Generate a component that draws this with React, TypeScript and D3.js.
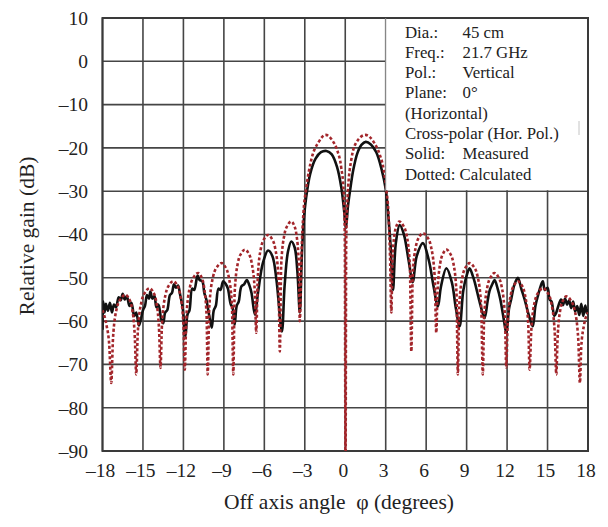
import React from "react";
import * as d3 from "d3";

const xTicks = [-18, -15, -12, -9, -6, -3, 0, 3, 6, 9, 12, 15, 18];
const yTicks = [10, 0, -10, -20, -30, -40, -50, -60, -70, -80, -90];

const legendLabels = ["Dia.:", "Freq.:", "Pol.:", "Plane:", "(Horizontal)", "Cross-polar (Hor. Pol.)", "Solid:", "Dotted: Calculated"];
const legendValues = ["45 cm", "21.7 GHz", "Vertical", "0°", "", "", "Measured", ""];

// Measured pattern (solid black): [angle deg, gain dB]
const measured: [number, number][] = [
  [-18.0, -62], [-17.95, -55.5], [-17.85, -58], [-17.75, -56], [-17.6, -57.6], [-17.45, -55.8], [-17.3, -58],
  [-17.15, -56.2], [-17.0, -56.8], [-16.8, -54.5], [-16.65, -55.2], [-16.5, -53.7], [-16.35, -55], [-16.2, -54.2],
  [-16.0, -56.5], [-15.85, -55.8], [-15.65, -58.8], [-15.5, -58], [-15.3, -61], [-15.15, -59.5], [-15.0, -57.5],
  [-14.85, -56.5], [-14.7, -54], [-14.55, -54.8], [-14.45, -53.2], [-14.3, -54.8], [-14.15, -54.2], [-14.0, -56.8],
  [-13.85, -56.2], [-13.65, -59.5], [-13.5, -60.5], [-13.35, -58], [-13.2, -57.5], [-13.0, -54], [-12.85, -53.5],
  [-12.7, -51.5], [-12.55, -52.3], [-12.4, -51.8], [-12.25, -53.8], [-12.05, -57], [-11.85, -63.5], [-11.7, -58.5],
  [-11.55, -57.5], [-11.35, -52.5], [-11.2, -52.8], [-10.95, -49.5], [-10.8, -50.5], [-10.6, -50.8], [-10.45, -53.5],
  [-10.3, -55], [-10.1, -58.5], [-9.9, -61.5], [-9.75, -57.5], [-9.6, -56.5], [-9.4, -52.5], [-9.25, -52.8],
  [-9.05, -50.8], [-8.85, -51.5], [-8.7, -52.5], [-8.5, -56], [-8.35, -57], [-8.2, -60.8], [-8.05, -56.5],
  [-7.9, -55.5], [-7.7, -52], [-7.5, -51.5], [-7.3, -50.5], [-7.1, -51.8], [-6.95, -53.5], [-6.7, -58.5],
  [-6.45, -53], [-6.1, -46.5], [-5.72, -43.7], [-5.4, -45], [-5.1, -50.5], [-4.7, -62.4], [-4.5, -52],
  [-4.25, -44], [-4.0, -41.6], [-3.75, -43], [-3.55, -48.5], [-3.37, -58], [-3.22, -45], [-3.08, -37],
  [-2.9, -31.5], [-2.6, -26], [-2.2, -22.5], [-1.8, -21], [-1.39, -20.7], [-1.0, -21.5], [-0.6, -24.5],
  [-0.3, -29], [-0.1, -34], [0.05, -38.5], [0.2, -33.5], [0.35, -30], [0.6, -25], [0.9, -21.2],
  [1.2, -19.3], [1.52, -18.6], [1.9, -19.2], [2.3, -21], [2.7, -25], [3.0, -29.5], [3.2, -36],
  [3.35, -42], [3.54, -52.8], [3.75, -42], [4.04, -37.8], [4.35, -40], [4.7, -46], [5.0, -51],
  [5.3, -45], [5.76, -42], [6.2, -46], [6.55, -52], [6.87, -56.6], [7.1, -52], [7.5, -47.8],
  [7.9, -51], [8.2, -57], [8.48, -61.2], [8.75, -53], [9.0, -49.5], [9.22, -47.8], [9.45, -49.5],
  [9.6, -51], [10.0, -56], [10.33, -59.3], [10.55, -55.5], [10.7, -53], [10.9, -51.5], [11.07, -50.5],
  [11.3, -52.5], [11.5, -55], [11.75, -59.5], [11.94, -62.7], [12.15, -57], [12.3, -55], [12.55, -51.5],
  [12.8, -50], [13.05, -52.5], [13.3, -55], [13.6, -58.5], [13.9, -61.2], [14.1, -56.5], [14.3, -54],
  [14.5, -51.8], [14.65, -50.8], [14.8, -52.8], [15.0, -52.3], [15.15, -55], [15.3, -55.5], [15.5, -58.8],
  [15.65, -58], [15.8, -56.5], [16.0, -55], [16.15, -56.3], [16.3, -54.8], [16.45, -56.2], [16.6, -55.2],
  [16.75, -57], [16.9, -55.5], [17.05, -57.8], [17.2, -56.5], [17.35, -58.6], [17.5, -56], [17.65, -58.8],
  [17.8, -56.4], [17.92, -58.2], [18.0, -57.2],
];

// Calculated pattern (dotted red): [angle deg, gain dB]
const calculated: [number, number][] = [
  [-18.0, -57.5], [-17.7, -61], [-17.5, -65.5], [-17.35, -74.3],
  [-17.22, -63.9], [-16.93, -56.9], [-16.59, -54.6], [-16.3, -53.9], [-16.08, -54.6], [-15.82, -56.9], [-15.6, -63.9], [-15.5, -72.3],
  [-15.38, -62.4], [-15.1, -55.4], [-14.78, -53.1], [-14.5, -52.4], [-14.28, -53.1], [-14.02, -55.4], [-13.8, -62.4], [-13.7, -70.8],
  [-13.59, -60.8], [-13.32, -53.8], [-13.02, -51.5], [-12.75, -50.8], [-12.51, -51.5], [-12.24, -53.8], [-12.0, -60.8], [-11.9, -71.2],
  [-11.78, -58.9], [-11.5, -51.9], [-11.18, -49.6], [-10.9, -48.9], [-10.7, -49.6], [-10.48, -51.9], [-10.28, -58.9], [-10.2, -72.3],
  [-10.08, -56.6], [-9.79, -49.6], [-9.46, -47.3], [-9.17, -46.6], [-8.93, -47.3], [-8.65, -49.6], [-8.4, -56.6], [-8.3, -72.3],
  [-8.2, -53.5], [-7.96, -46.5], [-7.68, -44.2], [-7.44, -43.5], [-7.2, -44.2], [-6.94, -46.5], [-6.7, -53.5], [-6.6, -62.7],
  [-6.49, -50.1], [-6.25, -43.1], [-5.97, -40.8], [-5.72, -40.1], [-5.48, -40.8], [-5.2, -43.1], [-4.95, -50.1], [-4.85, -67],
  [-4.75, -47], [-4.51, -40], [-4.24, -37.7], [-4.0, -37.0], [-3.82, -37.7], [-3.62, -40], [-3.44, -47], [-3.37, -60],
  [-3.25, -45], [-3.1, -35], [-2.9, -29.5], [-2.5, -22.5], [-2.0, -18.8], [-1.45, -17.0], [-0.95, -18.3], [-0.6, -20.5],
  [-0.3, -24.5], [-0.12, -30], [-0.03, -42], [0.02, -95],
  [0.07, -42], [0.18, -31], [0.46, -22.5], [0.85, -18.6], [1.5, -17.0], [2.1, -18.6], [2.55, -21.5], [2.85, -25],
  [3.05, -29.7], [3.22, -36], [3.32, -45], [3.42, -58],
  [3.49, -47], [3.65, -40], [3.84, -37.7], [4.0, -37.0], [4.25, -37.7], [4.54, -40], [4.79, -47], [4.9, -67],
  [5.0, -49.7], [5.24, -42.7], [5.52, -40.4], [5.76, -39.7], [6.04, -40.4], [6.35, -42.7], [6.63, -49.7], [6.75, -62.7],
  [6.84, -53.5], [7.05, -46.5], [7.29, -44.2], [7.5, -43.5], [7.74, -44.2], [8.01, -46.5], [8.25, -53.5], [8.35, -72.3],
  [8.45, -56.6], [8.7, -49.6], [8.98, -47.3], [9.22, -46.6], [9.5, -47.3], [9.81, -49.6], [10.08, -56.6], [10.2, -72.3],
  [10.3, -58.9], [10.55, -51.9], [10.83, -49.6], [11.07, -48.9], [11.31, -49.6], [11.59, -51.9], [11.84, -58.9], [11.94, -70.7],
  [12.04, -60.8], [12.28, -53.8], [12.56, -51.5], [12.8, -50.8], [13.04, -51.5], [13.32, -53.8], [13.57, -60.8], [13.67, -71.2],
  [13.79, -62.4], [14.06, -55.4], [14.38, -53.1], [14.65, -52.4], [14.93, -53.1], [15.25, -55.4], [15.53, -62.4], [15.65, -72.3],
  [15.74, -64.3], [15.95, -57.3], [16.19, -55.0], [16.4, -54.3], [16.68, -55.0], [17.0, -57.3], [17.28, -64.3], [17.4, -74.3],
  [17.5, -66], [17.7, -61], [18.0, -58],
];

const W = 608;
const H = 527;
const L = 102.5, R = 588, T = 18, B = 451;

export default function App() {
  const x = d3.scaleLinear().domain([-18, 18]).range([L, R]);
  const y = d3.scaleLinear().domain([-90, 10]).range([B, T]);

  const lineM = d3.line<[number, number]>().x(d => x(d[0])).y(d => y(d[1])).curve(d3.curveCatmullRom.alpha(0.5));
  const lineC = d3.line<[number, number]>().x(d => x(d[0])).y(d => y(d[1])).curve(d3.curveMonotoneX);

  const font = "'Liberation Serif', 'Times New Roman', serif";
  const gridColor = "#454545";
  const red = "#a3262b";

  const boxX = x(3), boxY = y(10), boxW = x(18) - x(3), boxH = y(-30) - y(10);
  const rowY = (i: number) => 37.5 + i * 20.3;

  return (
    <svg width={W} height={H} style={{ position: "absolute", left: 0, top: 0, background: "#fff" }} fontFamily={font}>
      <defs>
        <clipPath id="plotclip">
          <rect x={L} y={T} width={R - L} height={B - T} />
        </clipPath>
      </defs>
      <rect x={0} y={0} width={W} height={H} fill="#fff" />
      {xTicks.map(t => (
        <line key={"gx" + t} x1={x(t)} x2={x(t)} y1={T} y2={B} stroke={gridColor} strokeWidth={1.6} />
      ))}
      {yTicks.map(t => (
        <line key={"gy" + t} x1={L} x2={R} y1={y(t)} y2={y(t)} stroke={gridColor} strokeWidth={1.6} />
      ))}
      <rect x={L} y={T} width={R - L} height={B - T} fill="none" stroke="#3a3a3a" strokeWidth={2} />
      <g clipPath="url(#plotclip)">
        <path d={lineM(measured) || ""} fill="none" stroke="#111" strokeWidth={2.6} strokeLinejoin="round" />
        <path d={lineC(calculated) || ""} fill="none" stroke={red} strokeWidth={2.6} strokeDasharray="3 2.2" />
      </g>
      <rect x={boxX} y={boxY + 1} width={boxW - 1} height={boxH - 2} fill="#fff" />
      <line x1={boxX} x2={boxX} y1={boxY} y2={boxY + boxH} stroke="#8a8a8a" strokeWidth={1} />
      <line x1={579} x2={579} y1={121} y2={135} stroke="#c4c4c4" strokeWidth={1} />
      {legendLabels.map((s, i) => (
        <text key={"ll" + i} x={405} y={rowY(i)} fontSize={16.8} fill="#222">{s}</text>
      ))}
      {legendValues.map((s, i) => (s ? (
        <text key={"lv" + i} x={462.5} y={rowY(i)} fontSize={16.8} fill="#222">{s}</text>
      ) : null))}
      {yTicks.map(t => (
        <text key={"yl" + t} x={88} y={y(t)} dy="0.35em" textAnchor="end" fontSize={19.5} fill="#222">
          {t < 0 ? "\u2013" + Math.abs(t) : String(t)}
        </text>
      ))}
      {xTicks.map(t => (
        <text key={"xl" + t} x={x(t) - 2} y={477} textAnchor="middle" fontSize={19.5} fill="#222">
          {t < 0 ? "\u2013" + Math.abs(t) : String(t)}
        </text>
      ))}
      <text x={339} y={509} textAnchor="middle" fontSize={21.5} fill="#222" style={{ whiteSpace: "pre" }}>{"Off axis angle  φ (degrees)"}</text>
      <text transform={`translate(34, 236) rotate(-90)`} textAnchor="middle" fontSize={21.5} fill="#222">Relative gain (dB)</text>
    </svg>
  );
}
